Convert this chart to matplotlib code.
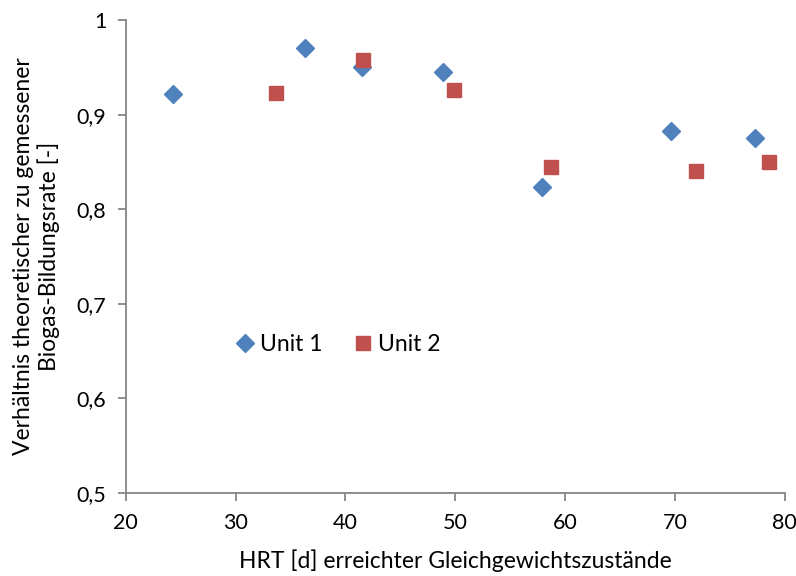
import matplotlib
matplotlib.use("Agg")
import matplotlib.pyplot as plt
from matplotlib.ticker import FuncFormatter

plt.rcParams['font.family'] = ['Lato', 'DejaVu Sans']

unit1_x = [24.3, 36.3, 41.5, 48.9, 57.9, 69.6, 77.3]
unit1_y = [0.922, 0.971, 0.950, 0.945, 0.824, 0.883, 0.875]
unit2_x = [33.7, 41.6, 49.9, 58.7, 71.9, 78.6]
unit2_y = [0.923, 0.958, 0.926, 0.845, 0.840, 0.850]

fig = plt.figure(figsize=(7.96, 5.76), dpi=100)
ax = fig.add_axes([0.158, 0.144, 0.828, 0.821])

blue = '#4F81BD'
red = '#C0504D'
ax.plot(unit1_x, unit1_y, linestyle='none', marker='D', ms=9, color=blue, label='Unit 1')
ax.plot(unit2_x, unit2_y, linestyle='none', marker='s', ms=10, color=red, label='Unit 2')

ax.set_xlim(20, 80)
ax.set_ylim(0.5, 1.0)
ax.set_xticks(range(20, 81, 10))
ax.set_yticks([0.5, 0.6, 0.7, 0.8, 0.9, 1.0])
ax.yaxis.set_major_formatter(FuncFormatter(lambda v, p: ('%g' % round(v, 1)).replace('.', ',')))

for s in ['top', 'right']:
    ax.spines[s].set_visible(False)
for s in ['left', 'bottom']:
    ax.spines[s].set_color('#868686')
    ax.spines[s].set_linewidth(1.3)
ax.tick_params(direction='out', length=6, width=1.3, color='#868686', labelsize=15.5, labelcolor='black', pad=8)

ax.set_xlabel('HRT [d] erreichter Gleichgewichtszustände', fontsize=16.5, labelpad=12)
ax.set_ylabel('Verhältnis theoretischer zu gemessener\nBiogas-Bildungsrate [-]', fontsize=16.5, labelpad=12,
              linespacing=1.15)

ax.legend(loc='upper left', bbox_to_anchor=(0.132, 0.38), ncol=2, frameon=False, fontsize=16.5,
          handletextpad=0.15, columnspacing=1.3, handlelength=1.0)

fig.savefig('out.png', dpi=100)
